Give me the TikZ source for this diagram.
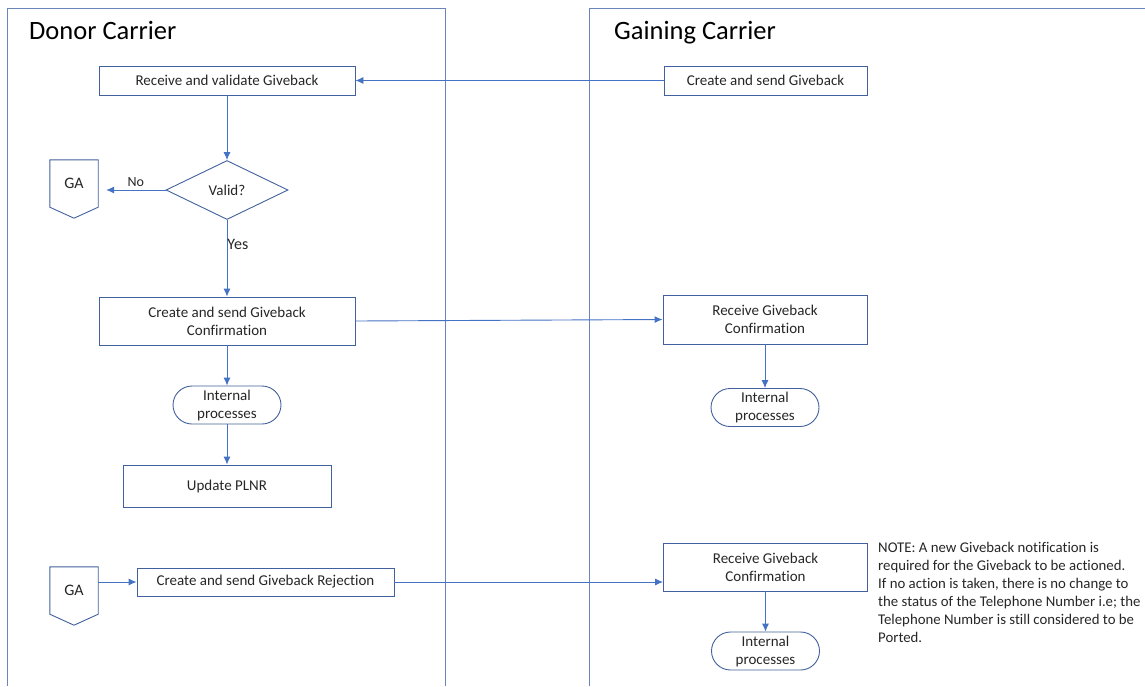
\documentclass[tikz,border=0pt]{standalone}
\usepackage{fontspec}
\setmainfont[Ligatures={NoCommon}]{Carlito}
\usetikzlibrary{positioning}
\usetikzlibrary{shapes.geometric}
\usetikzlibrary{arrows.meta}
\definecolor{laneblue}{HTML}{6A86B8}
\definecolor{boxblue}{HTML}{41609C}
\definecolor{flowblue}{HTML}{4472C4}
\tikzset{
        lane/.style={draw=laneblue, line width=0.9pt},
        lanetitle/.style={anchor=base west, inner sep=0pt, font=\fontsize{26.5}{30}\selectfont},
        procbox/.style={draw=boxblue, line width=0.9pt, align=center, inner sep=0pt,
          font=\fontsize{15}{18}\selectfont, text=black!85},
        termbox/.style={procbox, rounded corners=19pt, minimum width=108pt, minimum height=38pt},
        decision/.style={draw=boxblue, line width=0.9pt, diamond, inner sep=0pt,
          minimum width=122pt, minimum height=59pt, font=\fontsize{15}{18}\selectfont, text=black!85},
        offpage/.style={inner sep=0pt, minimum width=48pt, minimum height=47pt,
          font=\fontsize{16}{18}\selectfont, text=black!85},
        flow/.style={draw=flowblue, line width=0.9pt, -{Latex[length=8pt,width=7pt]}},
        flowlabel/.style={inner sep=1pt, font=\fontsize{14}{16}\selectfont, text=black!85},
}

\begin{document}
\begin{tikzpicture}[x=1pt, y=-1pt]
      \useasboundingbox (0,0) rectangle (1145,686);
      % LANES
      \draw[lane] (7,686) -- (7,8) -- (445,8) -- (445,686);
      \draw[lane] (589,686) -- (589,8) -- (1145,8);
      \node[lanetitle] (donor) at (29,39) {Donor Carrier};
      \node[lanetitle] (gaining) at (614,39) {Gaining Carrier};

      % DONOR CARRIER
      \node[procbox, minimum width=256pt, minimum height=29pt] (recv) at (227,80.5) {Receive and validate Giveback};
      \node[decision] (valid) at (227,190) {Valid?};
      \node[offpage] (ga1) at (74,183.5) {GA};
      \draw[draw=boxblue, line width=0.9pt] (ga1.north west) -- (ga1.north east) -- (ga1.south east)
        -- ([yshift=-11pt]ga1.south) -- (ga1.south west) -- cycle;
      \node[procbox, minimum width=256pt, minimum height=48pt] (confirm) at (227,321) {Create and send Giveback\\Confirmation};
      \node[termbox] (intdonor) at (227,405) {Internal\\processes};
      \node[procbox, minimum width=208pt, minimum height=42pt] (plnr) at (227,486) {Update PLNR};
      \node[offpage] (ga2) at (74,590.5) {GA};
      \draw[draw=boxblue, line width=0.9pt] (ga2.north west) -- (ga2.north east) -- (ga2.south east)
        -- ([yshift=-11pt]ga2.south) -- (ga2.south west) -- cycle;
      \node[procbox, minimum width=257pt, minimum height=28pt] (reject) at (265.5,582) {Create and send Giveback Rejection};

      % GAINING CARRIER
      \node[procbox, minimum width=203pt, minimum height=29pt] (create) at (765.5,80.5) {Create and send Giveback};
      \node[procbox, minimum width=204pt, minimum height=49pt] (rcvconf) at (765,319.5) {Receive Giveback\\Confirmation};
      \node[termbox] (intgain) at (765,407.5) {Internal\\processes};
      \node[procbox, minimum width=204pt, minimum height=48pt] (rcvconfb) at (765.5,567) {Receive Giveback\\Confirmation};
      \node[termbox] (intgainb) at (765.5,651) {Internal\\processes};
      \node[anchor=north west, align=left, inner sep=0pt,
        font=\fontsize{14.8}{18}\selectfont, text=black!85] (note) at (878,542)
        {NOTE: A new Giveback notification is\\
         required for the Giveback to be actioned.\\
         If no action is taken, there is no change to\\
         the status of the Telephone Number i.e; the\\
         Telephone Number is still considered to be\\
         Ported.};

      % FLOWS
      \draw[flow] (create.west) -- (recv.east);
      \draw[flow] (recv.south) -- (valid.north);
      \draw[flow] (valid.west) -- ([xshift=8pt]valid.west -| ga1.east) node[flowlabel, midway, above=2pt] {No};
      \draw[flow] (valid.south) -- (confirm.north) node[flowlabel, pos=0.32, right=-1pt, font=\fontsize{16}{18}\selectfont] {Yes};
      \draw[flow] (confirm.east) -- (rcvconf.west);
      \draw[flow] (confirm.south) -- (intdonor.north);
      \draw[flow] (intdonor.south) -- (plnr.north);
      \draw[flow] (rcvconf.south) -- (intgain.north);
      \draw[flow] (ga2.east |- reject.west) -- (reject.west);
      \draw[flow] (reject.east) -- (reject.east -| rcvconfb.west);
      \draw[flow] (rcvconfb.south) -- (intgainb.north);
\end{tikzpicture}
\end{document}
